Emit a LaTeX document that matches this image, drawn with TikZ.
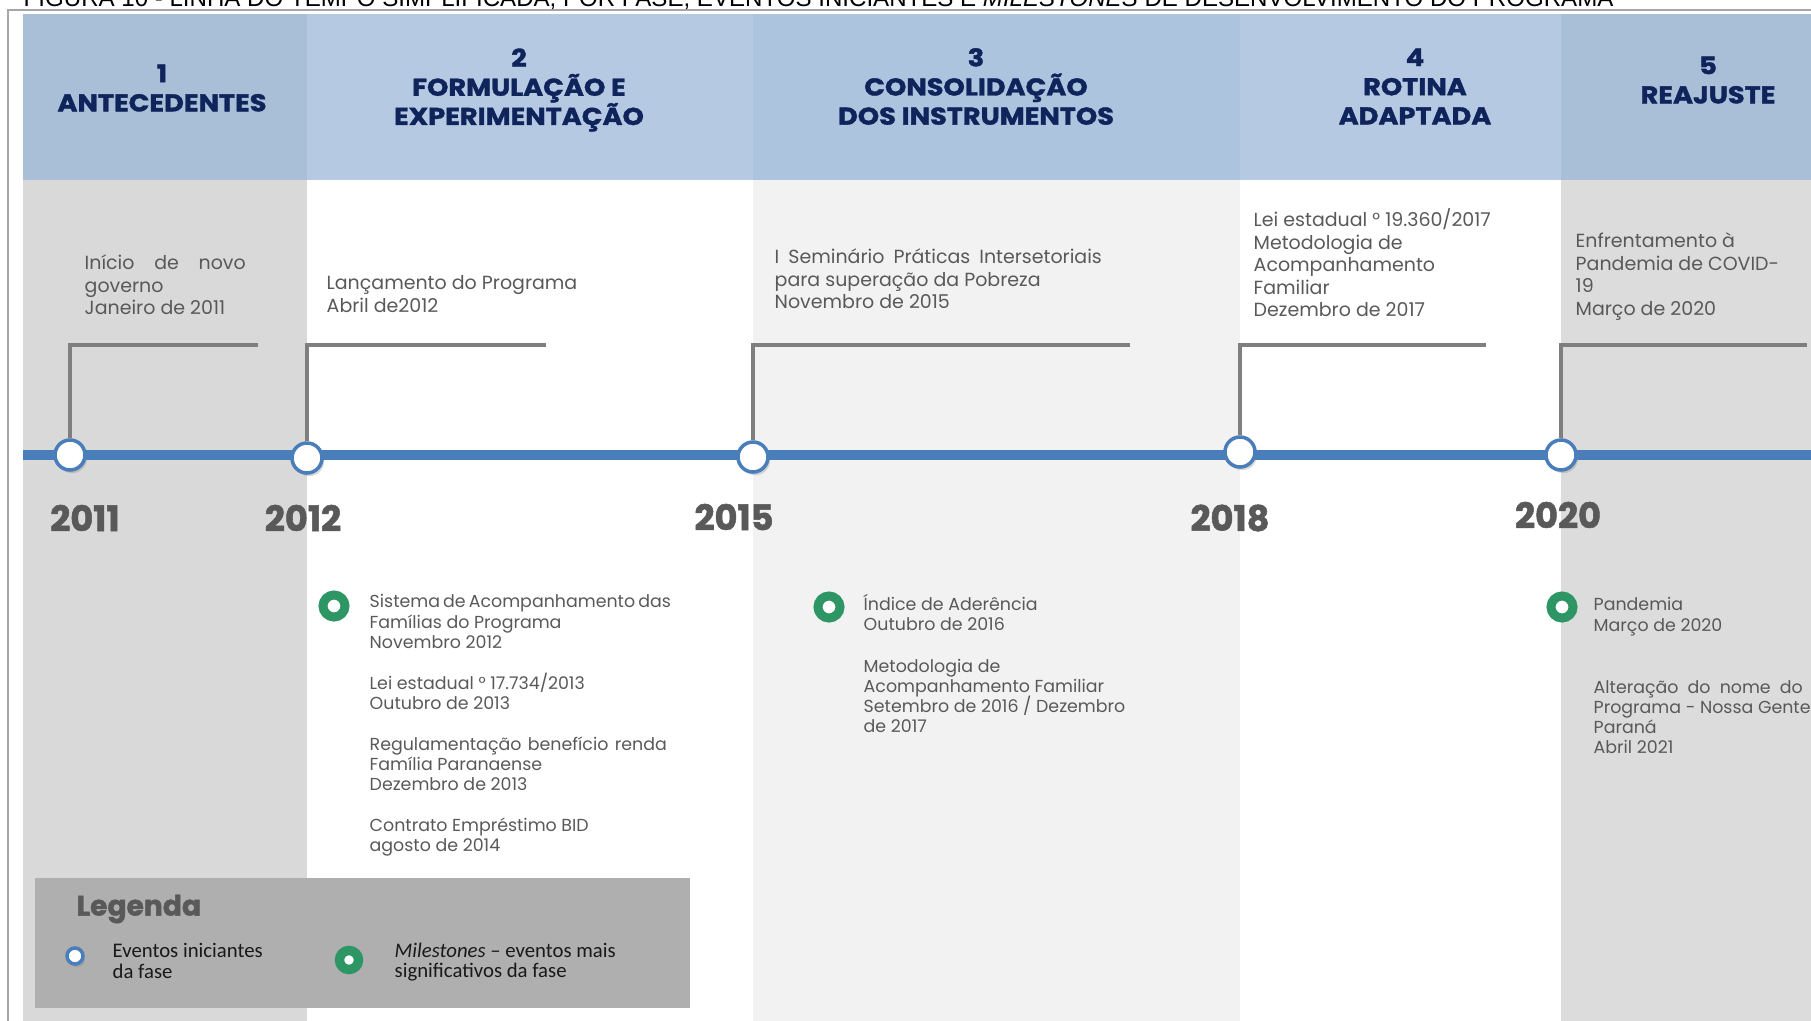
\documentclass[tikz,border=0pt]{standalone}
\usepackage{fontspec}
\setmainfont{Poppins}
\newfontfamily\heavyfont{Poppins}[BoldFeatures={FakeBold=1.5}]
\newfontfamily\headfont{Poppins}[BoldFeatures={FakeBold=1.5, FakeStretch=1.12}]
\newfontfamily\legfont{Carlito}
\newfontfamily\capfont{Liberation Sans}
\usetikzlibrary{shadows}

\definecolor{headA}{RGB}{169,191,216}
\definecolor{headB}{RGB}{181,202,226}
\definecolor{headC}{RGB}{173,196,222}
\definecolor{bodyA}{RGB}{217,217,217}
\definecolor{bodyC}{RGB}{242,242,242}
\definecolor{bodyE}{RGB}{220,220,220}
\definecolor{navy}{RGB}{16,36,92}
\definecolor{tlblue}{RGB}{74,126,187}
\definecolor{txtgray}{RGB}{89,89,89}
\definecolor{lngray}{RGB}{127,127,127}
\definecolor{msgreen}{RGB}{46,150,100}
\definecolor{leggray}{RGB}{175,175,175}

\newcommand{\jl}[2]{\makebox[#1][s]{#2}}

\begin{document}
\begin{tikzpicture}[x=0.01cm, y=-0.01cm,
    head/.style = {font=\headfont\bfseries\fontsize{6.9}{8.3}\selectfont, text=navy, align=center},
    year/.style = {font=\heavyfont\bfseries\fontsize{10}{12}\selectfont, text=txtgray},
    evt/.style = {font={\fontsize{5.4}{6.4}\selectfont\lineskiplimit-5pt}, text=txtgray, align=left, anchor=north west, inner sep=0pt},
    ms/.style = {font={\fontsize{4.95}{5.7}\selectfont\lineskiplimit-5pt}, text=txtgray, align=left, anchor=north west, inner sep=0pt},
    start/.style = {circle, draw=tlblue, line width=1pt, fill=white, minimum size=0.30cm, inner sep=0pt,
        drop shadow={shadow xshift=0.6pt, shadow yshift=-0.9pt, opacity=0.3}},
    mile/.style = {circle, draw=msgreen, line width=2.56pt, fill=white, minimum size=0.22cm, inner sep=0pt,
        drop shadow={shadow xshift=0.6pt, shadow yshift=-0.9pt, opacity=0.3}},
    conn/.style = {draw=lngray, line width=1.1pt},
    leg/.style = {font={\legfont\fontsize{5.9}{5.9}\selectfont\lineskiplimit-5pt}, text=black!90, align=left, anchor=west, inner sep=0pt}]
    % Background

    \useasboundingbox (0,0) rectangle (1811,1021);
    \clip (0,0) rectangle (1811,1021);
    \fill[headA] (23,14) rectangle (307,180);
    \fill[headB] (307,14) rectangle (753,180);
    \fill[headC] (753,14) rectangle (1240,180);
    \fill[headB] (1240,14) rectangle (1561,180);
    \fill[headA] (1561,14) rectangle (1811,180);
    \fill[bodyA] (23,180) rectangle (307,1021);
    \fill[bodyC] (753,180) rectangle (1240,1021);
    \fill[bodyE] (1561,180) rectangle (1811,1021);
    \draw[black!35, line width=0.6pt] (8,1021) -- (8,10) -- (1811,10);

    \node[font=\capfont\fontsize{6.85}{7}\selectfont, anchor=base west, inner sep=0pt] (cap) at (23,7)
        {FIGURA 10 - LINHA DO TEMPO SIMPLIFICADA, POR FASE, EVENTOS INICIANTES E \textit{MILESTONES} DE DESENVOLVIMENTO DO PROGRAMA};

    % Phases

    \node[head] (p1) at (162,88) {1\\ANTECEDENTES};
    \node[head] (p2) at (519,90) {2\\FORMULAÇÃO E\\EXPERIMENTAÇÃO};
    \node[head] (p3) at (976,86.5) {3\\CONSOLIDAÇÃO\\DOS INSTRUMENTOS};
    \node[head] (p4) at (1415,86.5) {4\\ROTINA\\ADAPTADA};
    \node[head] (p5) at (1708,80) {5\\REAJUSTE};

    % Timeline

    \coordinate (t0) at (23,455);
    \coordinate (t1) at (1811,455);
    \draw[tlblue, line width=2.9pt] (t0) -- (t1);

    \node[start] (s2011) at (70,455) {};
    \node[start] (s2012) at (307,458) {};
    \node[start] (s2015) at (753,457) {};
    \node[start] (s2018) at (1240,452) {};
    \node[start] (s2020) at (1561,455) {};

    \node[year] (y2011) at (85,518) {2011};
    \node[year] (y2012) at (303,518) {2012};
    \node[year] (y2015) at (734,517) {2015};
    \node[year] (y2018) at (1230,518) {2018};
    \node[year] (y2020) at (1558,515) {2020};

    % Starting events

    \coordinate (c2011) at (258,345);
    \coordinate (c2012) at (546,345);
    \coordinate (c2015) at (1130,345);
    \coordinate (c2018) at (1486,345);
    \coordinate (c2020) at (1807,345);
    \draw[conn] (s2011) |- (c2011);
    \draw[conn] (s2012) |- (c2012);
    \draw[conn] (s2015) |- (c2015);
    \draw[conn] (s2018) |- (c2018);
    \draw[conn] (s2020) |- (c2020);

    \node[evt] (e2011) at (84,254) {\jl{1.61cm}{Início de novo}\\governo\\Janeiro de 2011};
    \node[evt] (e2012) at (326,275) {Lançamento do Programa\\Abril de2012};
    \node[evt] (e2015) at (774,248) {\jl{3.27cm}{I Seminário Práticas Intersetoriais}\\para superação da Pobreza\\Novembro de 2015};
    \node[evt] (e2018) at (1253,208) {Lei estadual ° 19.360/2017\\Metodologia de\\Acompanhamento\\Familiar\\Dezembro de 2017};
    \node[evt] (e2020) at (1575,232) {Enfrentamento à\\Pandemia de COVID-\\19\\Março de 2020};

    % Milestones

    \node[mile] (m2012) at (334,606) {};
    \node[mile] (m2015) at (829,607) {};
    \node[mile] (m2020) at (1562,607) {};

    \node[ms] (n2012) at (369,594) {\jl{2.97cm}{Sistema de Acompanhamento das}\\Famílias do Programa\\Novembro 2012\\[6pt]
        Lei estadual ° 17.734/2013\\Outubro de 2013\\[6pt]
        \jl{2.97cm}{Regulamentação benefício renda}\\Família Paranaense\\Dezembro de 2013\\[6pt]
        Contrato Empréstimo BID\\agosto de 2014};
    \node[ms] (n2015) at (863,594) {Índice de Aderência\\Outubro de 2016\\[6pt]
        Metodologia de\\Acompanhamento Familiar\\Setembro de 2016 / Dezembro\\de 2017};
    \node[ms] (n2020) at (1593,597) {Pandemia\\Março de 2020\\[12pt]
        \jl{2.09cm}{Alteração do nome do}\\Programa - Nossa Gente\\Paraná\\Abril 2021};

    % Legend

    \node[fill=leggray, minimum width=6.55cm, minimum height=1.30cm, inner sep=0pt] (legbox) at (362.5,943) {};
    \node[font=\heavyfont\bfseries\fontsize{8}{9}\selectfont, text=txtgray, anchor=west, inner sep=0pt] (legtitle) at (76,909) {Legenda};
    \node[start, minimum size=0.16cm, line width=1pt] (lstart) at (75,956) {};
    \node[leg] (lstarttxt) at (112,961) {Eventos iniciantes\\da fase};
    \node[mile, minimum size=0.19cm, line width=2.7pt] (lmile) at (349,960) {};
    \node[leg] (lmiletxt) at (394,962) {\textit{Milestones} – eventos mais\\significativos da fase};

\end{tikzpicture}
\end{document}
